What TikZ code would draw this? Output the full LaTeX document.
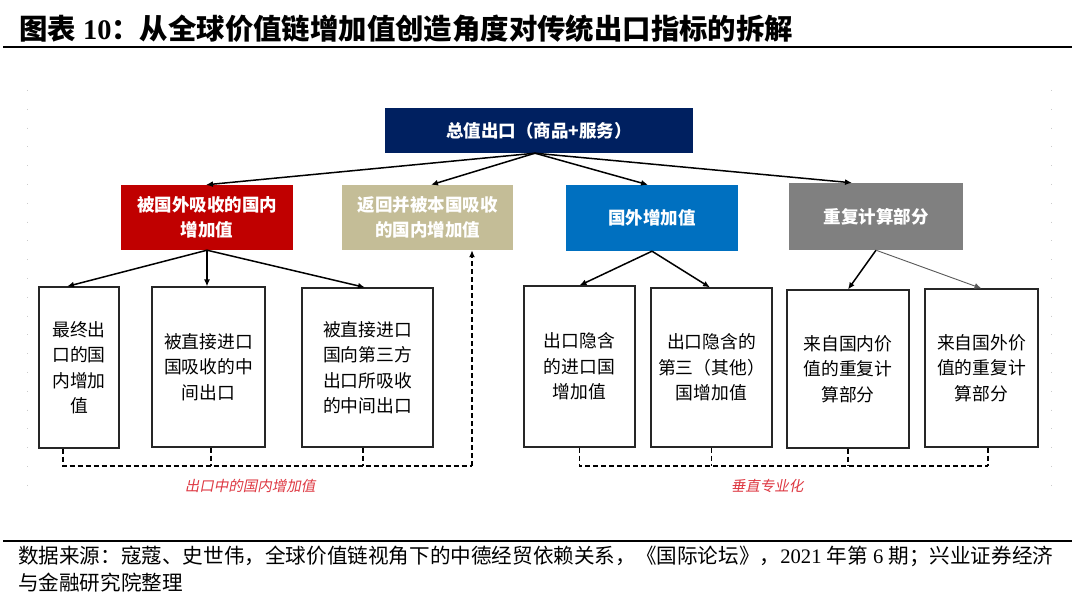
\documentclass[tikz,border=0pt]{standalone}
\usepackage{fontspec}
\setmainfont{Liberation Serif}
\newfontfamily\cjk{Noto Sans CJK SC}
\newfontfamily\cjkslant[FakeSlant=0.2]{Noto Sans CJK SC}
\usetikzlibrary{positioning,arrows.meta}
\definecolor{navyfill}{RGB}{0,32,96}
\definecolor{redfill}{RGB}{192,0,0}
\definecolor{tanfill}{RGB}{196,189,151}
\definecolor{bluefill}{RGB}{0,112,192}
\definecolor{grayfill}{RGB}{128,128,128}
\definecolor{labelred}{RGB}{222,56,66}
\tikzset{
colbox/.style={draw=none,inner sep=0pt,align=center,text=white,font=\cjk\bfseries\fontsize{17.5}{25}\selectfont},
topbox/.style={colbox,fill=navyfill,minimum width=308pt,minimum height=45pt},
redbox/.style={colbox,fill=redfill,minimum width=172pt,minimum height=65pt},
tanbox/.style={colbox,fill=tanfill,minimum width=171pt,minimum height=65pt},
bluebox/.style={colbox,fill=bluefill,minimum width=172pt,minimum height=66pt},
graybox/.style={colbox,fill=grayfill,minimum width=174pt,minimum height=67pt},
leaf/.style={draw=black!85,line width=1.1pt,fill=white,inner sep=0pt,align=center,font=\cjk\fontsize{17.8}{25.5}\selectfont},
flowarrow/.style={-{Latex[length=7pt,width=6pt]},line width=1.5pt,black},
thinarrow/.style={-{Latex[length=7pt,width=6pt]},line width=0.9pt,black!65},
dashlink/.style={line width=1.8pt,dash pattern=on 5pt off 3pt,black},
grouplabel/.style={text=labelred,font=\cjkslant\fontsize{14.5}{16}\selectfont,inner sep=0pt},
faintdots/.style={black!20,line width=0.8pt,dash pattern=on 0.8pt off 18pt},
rule/.style={line width=2.6pt,black}
}

\begin{document}
\begin{tikzpicture}[x=1pt,y=-1pt]
\useasboundingbox[fill=white] (0,0) rectangle (1072,604);
\node[anchor=west,inner sep=0pt,font=\fontsize{28.4}{32}\selectfont\bfseries] (title) at (19,29) {{\cjk 图表} 10{\cjk ：从全球价值链增加值创造角度对传统出口指标的拆解}};
\draw[rule] (3,47) -- (1072,47);
\draw[faintdots] (27,90) -- (27,485);
\draw[faintdots] (1051,90) -- (1051,485);

\node[topbox] (total) at (539,130.5) {总值出口（商品+服务）};
\node[redbox] (dvaF) at (207,217.5) {被国外吸收的国内\\增加值};
\node[tanbox] (dvaR) at (427.5,217.5) {返回并被本国吸收\\的国内增加值};
\node[bluebox] (fva) at (652,218) {国外增加值};
\node[graybox] (pdc) at (876,216.5) {重复计算部分};

\node[leaf,minimum width=80pt,minimum height=161pt] (fin) at (79,367.5) {最终出\\口的国\\内增加\\值};
\node[leaf,minimum width=113pt,minimum height=160pt] (intDir) at (208.5,367) {被直接进口\\国吸收的中\\间出口};
\node[leaf,minimum width=131pt,minimum height=159pt] (intThird) at (367.5,367.5) {被直接进口\\国向第三方\\出口所吸收\\的中间出口};
\node[leaf,minimum width=111pt,minimum height=161pt] (fvaImp) at (579.5,366.5) {出口隐含\\的进口国\\增加值};
\node[leaf,minimum width=121pt,minimum height=159pt] (fvaOth) at (711.5,367.5) {出口隐含的\\第三（其他）\\国增加值};
\node[leaf,minimum width=122pt,minimum height=158pt] (pdcDom) at (848,369) {来自国内价\\值的重复计\\算部分};
\node[leaf,minimum width=113pt,minimum height=158pt] (pdcFor) at (981.5,368) {来自国外价\\值的重复计\\算部分};

\draw[flowarrow] ([xshift=-4pt]total.south) -- ([xshift=-1pt]dvaF.north);
\draw[flowarrow] ([xshift=-4pt]total.south) -- ([xshift=3.5pt]dvaR.north);
\draw[flowarrow] ([xshift=-4pt]total.south) -- ([xshift=-4pt]fva.north);
\draw[flowarrow] ([xshift=-4pt]total.south) -- ([xshift=-24pt]pdc.north);

\draw[flowarrow] (dvaF.south) -- ([xshift=-12pt]fin.north);
\draw[flowarrow] (dvaF.south) -- (dvaF.south |- intDir.north);
\draw[flowarrow] (dvaF.south) -- ([xshift=-2.5pt]intThird.north);
\draw[flowarrow] (fva.south) -- (fvaImp.north);
\draw[flowarrow] (fva.south) -- ([xshift=-1.5pt]fvaOth.north);
\draw[flowarrow] (pdc.south) -- (pdcDom.north);
\draw[thinarrow] (pdc.south) -- (pdcFor.north);

\coordinate (busA) at (472,466);
\coordinate (busB) at (988,466);
\draw[dashlink] ([xshift=-16pt]fin.south) |- (busA);
\draw[dashlink] ([xshift=2.5pt]intDir.south) -- ([xshift=2.5pt]intDir.south |- busA);
\draw[dashlink] ([xshift=-4.5pt]intThird.south) -- ([xshift=-4.5pt]intThird.south |- busA);
\draw[dashlink,-{Latex[length=7pt,width=6pt]}] (busA) -- (busA |- dvaR.south);
\draw[dashlink] (fvaImp.south) |- (busB);
\draw[dashlink] (fvaOth.south) -- (fvaOth.south |- busB);
\draw[dashlink] (pdcDom.south) -- (pdcDom.south |- busB);
\draw[dashlink] ([xshift=6.5pt]pdcFor.south) -- (busB);

\node[grouplabel] (dvaLabel) at (250,486) {出口中的国内增加值};
\node[grouplabel] (vsLabel) at (767,486) {垂直专业化};

\draw[rule] (3,541) -- (1072,541);
\node[anchor=west,inner sep=0pt,align=left,font=\fontsize{20.6}{27}\selectfont] (source) at (18,569.5) {{\cjk 数据来源：寇蔻、史世伟，全球价值链视角下的中德经贸依赖关系，《国际论坛》，}2021 {\cjk 年第} 6 {\cjk 期；兴业证券经济}\\{\cjk 与金融研究院整理}};
\end{tikzpicture}
\end{document}
